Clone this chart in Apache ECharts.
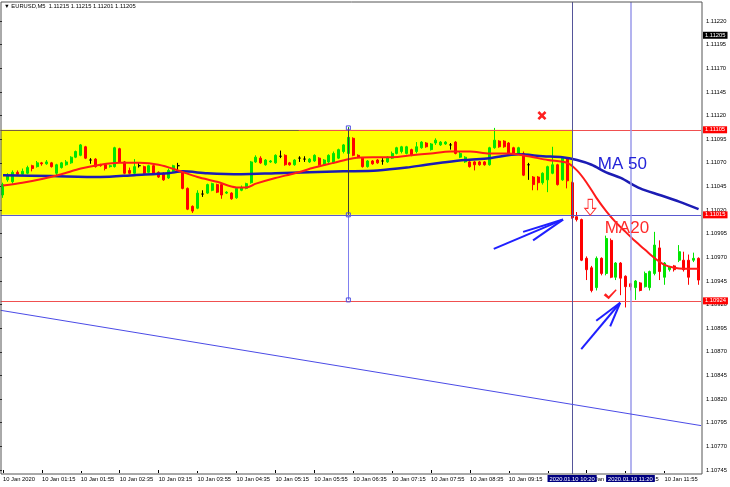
<!DOCTYPE html>
<html><head><meta charset="utf-8">
<script src="https://cdn.jsdelivr.net/npm/echarts@6/dist/echarts.min.js"></script>
<style>html,body{margin:0;padding:0;background:#fff}#c{width:730px;height:487px}</style>
</head><body><div id="c"></div>
<script>
// ---------- data ----------
const BASE = 1.10745;            // lowest price tick label
const TICK_STEP = 0.00025;       // price tick step
const VIEW_MIN = 1.107408;       // price at the bottom edge of the frame
const VIEW_MAX = 1.112402;       // price at the top edge of the frame
const FIRST_BAR_MIN = 35;        // first bar 00:35, M5 bars
const BAR_MINUTES = 5;

const openP = [1.11036,1.11052,1.11050,1.11060,1.11058,1.11059,1.11067,1.11066,1.11070,1.11069,
1.11070,1.11059,1.11065,1.11068,1.11070,1.11076,1.11078,1.11087,1.11073,1.11074,
1.11068,1.11068,1.11066,1.11066,1.11085,1.11071,1.11062,1.11059,1.11067,1.11066,
1.11060,1.11067,1.11060,1.11059,1.11054,1.11061,1.11067,1.11060,1.11043,1.11024,
1.11022,1.11037,1.11038,1.11041,1.11047,1.11047,1.11038,1.11038,1.11033,1.11041,
1.11043,1.11049,1.11071,1.11075,1.11068,1.11071,1.11070,1.11077,1.11078,1.11070,
1.11068,1.11075,1.11074,1.11071,1.11072,1.11075,1.11068,1.11071,1.11070,1.11075,
1.11082,1.11080,1.11096,1.11078,1.11075,1.11066,1.11072,1.11073,1.11072,1.11071,
1.11075,1.11080,1.11082,1.11080,1.11084,1.11082,1.11086,1.11091,1.11084,1.11091,
1.11089,1.11090,1.11089,1.11092,1.11076,1.11071,1.11071,1.11071,1.11071,1.11071,
1.11068,1.11086,1.11093,1.11093,1.11091,1.11086,1.11080,1.11080,1.11068,1.11055,
1.11055,1.11049,1.11052,1.11059,1.11068,1.11052,1.11075,1.11049,1.11013,1.11010,
1.10969,1.10959,1.10938,1.10969,1.10953,1.10988,1.10949,1.10964,1.10950,1.10942,
1.10938,1.10943,1.10939,1.10938,1.10953,1.10980,1.10949,1.10957,1.10961,1.10967,
1.10967,1.10967,1.10967,1.10969];
const closeP = [1.11047,1.11057,1.11060,1.11058,1.11061,1.11065,1.11064,1.11070,1.11069,1.11071,
1.11066,1.11068,1.11070,1.11071,1.11076,1.11082,1.11089,1.11075,1.11073,1.11066,
1.11067,1.11064,1.11067,1.11086,1.11071,1.11059,1.11059,1.11066,1.11067,1.11059,
1.11067,1.11059,1.11055,1.11052,1.11062,1.11067,1.11067,1.11043,1.11021,1.11019,
1.11038,1.11037,1.11047,1.11048,1.11039,1.11036,1.11039,1.11032,1.11043,1.11044,
1.11048,1.11071,1.11076,1.11070,1.11073,1.11072,1.11078,1.11077,1.11068,1.11068,
1.11073,1.11075,1.11074,1.11074,1.11078,1.11068,1.11073,1.11078,1.11080,1.11084,
1.11089,1.11097,1.11078,1.11076,1.11066,1.11072,1.11069,1.11070,1.11072,1.11076,
1.11080,1.11086,1.11087,1.11087,1.11078,1.11087,1.11092,1.11087,1.11090,1.11094,
1.11092,1.11092,1.11089,1.11080,1.11080,1.11076,1.11066,1.11068,1.11068,1.11068,
1.11086,1.11094,1.11087,1.11087,1.11080,1.11080,1.11086,1.11057,1.11068,1.11047,
1.11049,1.11059,1.11066,1.11068,1.11047,1.11075,1.11051,1.11012,1.11010,1.10967,
1.10957,1.10935,1.10969,1.10953,1.10990,1.10949,1.10964,1.10948,1.10939,1.10939,
1.10945,1.10935,1.10953,1.10955,1.10983,1.10955,1.10964,1.10960,1.10957,1.10976,
1.10957,1.10949,1.10969,1.10946];
const highP = [1.11049,1.11059,1.11062,1.11062,1.11064,1.11067,1.11068,1.11072,1.11071,1.11073,
1.11071,1.11069,1.11071,1.11073,1.11077,1.11083,1.11090,1.11088,1.11075,1.11075,
1.11069,1.11069,1.11068,1.11087,1.11086,1.11072,1.11065,1.11074,1.11070,1.11067,
1.11068,1.11068,1.11061,1.11060,1.11064,1.11068,1.11070,1.11062,1.11044,1.11025,
1.11041,1.11041,1.11048,1.11049,1.11048,1.11048,1.11040,1.11039,1.11044,1.11046,
1.11049,1.11072,1.11078,1.11077,1.11074,1.11073,1.11079,1.11083,1.11079,1.11071,
1.11074,1.11077,1.11077,1.11075,1.11079,1.11076,1.11074,1.11079,1.11082,1.11085,
1.11090,1.11108,1.11097,1.11079,1.11076,1.11073,1.11073,1.11074,1.11075,1.11077,
1.11082,1.11087,1.11088,1.11088,1.11085,1.11092,1.11093,1.11092,1.11091,1.11096,
1.11093,1.11093,1.11091,1.11093,1.11082,1.11077,1.11072,1.11072,1.11072,1.11072,
1.11087,1.11107,1.11094,1.11094,1.11092,1.11087,1.11087,1.11082,1.11070,1.11056,
1.11056,1.11060,1.11067,1.11087,1.11069,1.11076,1.11076,1.11050,1.11018,1.11011,
1.10971,1.10961,1.10971,1.10970,1.10993,1.10990,1.10965,1.10965,1.10951,1.10943,
1.10946,1.10944,1.10955,1.10956,1.10997,1.10988,1.10965,1.10961,1.10962,1.10983,
1.10976,1.10973,1.10975,1.10970];
const lowP = [1.11033,1.11050,1.11048,1.11056,1.11057,1.11058,1.11061,1.11065,1.11067,1.11068,
1.11065,1.11057,1.11064,1.11067,1.11069,1.11075,1.11077,1.11074,1.11069,1.11065,
1.11066,1.11062,1.11065,1.11065,1.11070,1.11058,1.11058,1.11058,1.11065,1.11058,
1.11059,1.11058,1.11054,1.11051,1.11053,1.11060,1.11062,1.11042,1.11020,1.11017,
1.11021,1.11034,1.11037,1.11040,1.11038,1.11032,1.11037,1.11031,1.11032,1.11040,
1.11042,1.11048,1.11070,1.11069,1.11067,1.11070,1.11069,1.11075,1.11067,1.11067,
1.11067,1.11071,1.11071,1.11070,1.11071,1.11067,1.11067,1.11070,1.11069,1.11074,
1.11080,1.11079,1.11077,1.11075,1.11065,1.11065,1.11068,1.11069,1.11068,1.11070,
1.11074,1.11079,1.11080,1.11079,1.11077,1.11080,1.11085,1.11086,1.11083,1.11089,
1.11088,1.11089,1.11084,1.11079,1.11075,1.11070,1.11065,1.11062,1.11067,1.11067,
1.11067,1.11085,1.11086,1.11086,1.11079,1.11079,1.11079,1.11056,1.11052,1.11041,
1.11041,1.11047,1.11039,1.11058,1.11046,1.11051,1.11043,1.11011,1.11008,1.10966,
1.10946,1.10933,1.10935,1.10951,1.10951,1.10948,1.10946,1.10930,1.10917,1.10935,
1.10925,1.10934,1.10938,1.10935,1.10951,1.10946,1.10941,1.10955,1.10955,1.10965,
1.10955,1.10941,1.10965,1.10941];

// moving averages: [bar index, price]
const ma20 = [[0,1.11046],[4,1.11049],[8,1.11053],[12,1.11058],[16,1.11064],[20,1.11068],[24,1.11070],
[28,1.11070],[32,1.11068],[36,1.11062],[40,1.11055],[44,1.11050],[48,1.11044],[50,1.11044],[52,1.11048],
[56,1.11054],[60,1.11059],[64,1.11065],[68,1.11070],[72,1.11075],[76,1.11076],[80,1.11076],[84,1.11078],
[88,1.11080],[92,1.11082],[96,1.11082],[100,1.11080],[104,1.11080],[108,1.11077],[112,1.11073],[116,1.11070],
[118,1.11062],[120,1.11049],[122,1.11033],[124,1.11019],[126,1.11007],[128,1.10997],[130,1.10987],
[132,1.10978],[134,1.10969],[136,1.10962],[138,1.10959],[140,1.10958],[143,1.10958]];
const ma50 = [[0,1.11057],[10,1.11056],[20,1.11055],[27,1.11057],[34,1.11059],[37,1.11061],[42,1.11059],
[49,1.11058],[56,1.11059],[63,1.11060],[70,1.11061],[77,1.11062],[83,1.11065],[87,1.11068],[90,1.11070],
[95,1.11073],[100,1.11075],[106,1.11079],[111,1.11077],[115,1.11076],[118,1.11073],[121,1.11068],
[124,1.11060],[127,1.11054],[131,1.11043],[135,1.11036],[139,1.11029],[143,1.11021]];
const trendLine = [[-0.5,1.10914],[143.5,1.10792]];

// chart objects
const levelTop = 1.11105, levelMid = 1.11015, levelLow = 1.10924, bidPrice = 1.11205;
const vLine1 = 117, vLine2 = 129;          // bars 10:20 and 11:20
const vLine1Text = '2020.01.10 10:20', vLine2Text = '2020.01.10 11:20';
const measureBar = 71, measureTop = 1.11107, measureBottom = 1.10925;
const titleText = '\u25BC EURUSD,M5  1.11215 1.11215 1.11201 1.11205';

// ---------- build ----------
const u = p => +((p - BASE) * 1e5).toFixed(2);
const N = openP.length;
const cats = [];
for (let i = 0; i < N; i++) {
  const m = FIRST_BAR_MIN + BAR_MINUTES * i;
  cats.push(String(Math.floor(m / 60)).padStart(2, '0') + ':' + String(m % 60).padStart(2, '0'));
}
const candles = openP.map((o, i) => {
  const v = [u(o), u(closeP[i]), u(lowP[i]), u(highP[i])];
  if (o === closeP[i]) return {value: v, itemStyle: {color: '#000', color0: '#000', borderColor: '#000', borderColor0: '#000'}};
  return v;
});
const pts = arr => arr.map(d => [d[0], u(d[1])]);
const FONT = 'Liberation Sans';
const FS = 5.8;
const priceLabel = (txt, bg) => ({show: true, position: 'end', distance: 2, formatter: txt, color: '#fff',
  backgroundColor: bg, padding: [1, 2, 0, 2], fontSize: FS, fontFamily: FONT});
const timeLabel = txt => ({show: true, position: 'start', distance: 1, formatter: txt, color: '#fff',
  backgroundColor: '#000080', padding: [1, 2, 0, 2], fontSize: FS, fontFamily: FONT});
const arrowStyle = {color: '#1f1fff', width: 2, type: 'solid'};
const seg = (a, b, ls) => [{coord: [a[0], u(a[1])], lineStyle: ls}, {coord: [b[0], u(b[1])]}];
const tip1 = [115.13, 1.11010], tip2 = [126.88, 1.10922];

const chart = echarts.init(document.getElementById('c'), null, {renderer: 'canvas'});
chart.setOption({
  animation: false,
  backgroundColor: '#fff',
  title: {text: titleText, left: 4, top: 3, padding: 0,
    textStyle: {fontSize: FS, fontWeight: 'normal', color: '#000', fontFamily: FONT}},
  grid: [
    {left: -1, right: 29, top: 2, bottom: 13},
    {left: 1, right: 28, top: 2, bottom: 13, show: true, borderColor: '#555', borderWidth: 1, backgroundColor: 'rgba(0,0,0,0)', z: 10},
    {left: -1, right: 29, top: 2, bottom: 17}
  ],
  xAxis: [
    {type: 'category', gridIndex: 0, data: cats, boundaryGap: true,
      axisLine: {show: false},
      axisTick: {show: true, interval: 7, alignWithLabel: true, length: 3, lineStyle: {color: '#000'}},
      axisLabel: {interval: 7, align: 'left', margin: 2, fontSize: FS, color: '#000', fontFamily: FONT,
        formatter: (v, i) => i === 0 ? '10 Jan 2020' : '10 Jan ' + v},
      splitLine: {show: false}},
    {type: 'value', gridIndex: 0, min: -0.5, max: N - 0.5, show: false},
    {type: 'value', gridIndex: 1, show: false},
    {type: 'value', gridIndex: 2, show: false}
  ],
  yAxis: [
    {type: 'value', gridIndex: 0, min: u(VIEW_MIN), max: u(VIEW_MAX), show: false},
    {type: 'value', gridIndex: 1, show: false},
    {type: 'value', gridIndex: 2, position: 'right', offset: 1, min: 0, max: u(VIEW_MAX),
      interval: TICK_STEP * 1e5, z: 1,
      axisLine: {show: false},
      axisTick: {show: true, length: 2, lineStyle: {color: '#000'}},
      axisLabel: {margin: 4, fontSize: FS, color: '#000', fontFamily: FONT, showMaxLabel: false,
        formatter: v => (BASE + v / 1e5).toFixed(5)},
      splitLine: {show: true, lineStyle: {color: '#fff', type: [2, 2], width: 1}}}
  ],
  series: [
    { // background rectangle
      type: 'line', xAxisIndex: 1, yAxisIndex: 0, data: [], z: 0, clip: false, silent: true,
      markArea: {silent: true, itemStyle: {color: '#ffff00'},
        data: [[{coord: [-0.5, u(levelTop)]}, {coord: [vLine1, u(levelMid)]}]]}
    },
    { // horizontal & vertical lines
      type: 'line', xAxisIndex: 1, yAxisIndex: 0, data: [], z: 2, clip: false, silent: true,
      markLine: {silent: true, symbol: ['none', 'none'], animation: false,
        data: [
          {yAxis: u(levelTop), lineStyle: {color: '#f05050', width: 1, type: 'solid'}, label: priceLabel('1.11105', '#ff0000')},
          {yAxis: u(levelMid), lineStyle: {color: '#5a5ad0', width: 1, type: 'solid'}, label: priceLabel('1.11015', '#ff0000')},
          {yAxis: u(levelLow), lineStyle: {color: '#f05050', width: 1, type: 'solid'}, label: priceLabel('1.10924', '#ff0000')},
          {yAxis: u(bidPrice), lineStyle: {color: 'rgba(0,0,0,0)', width: 1, type: 'solid'}, label: priceLabel('1.11205', '#000000')},
          [{coord: [-0.5, u(levelTop)], lineStyle: {color: '#7a6040', width: 1, type: 'solid'}, label: {show: false}}, {coord: [60.8, u(levelTop)]}],
          {xAxis: vLine1, lineStyle: {color: '#55559a', width: 1, type: 'solid'}, label: timeLabel(vLine1Text)},
          {xAxis: vLine2, lineStyle: {color: '#9a9aea', width: 1.5, type: 'solid'}, label: timeLabel(vLine2Text)},
          [{coord: [measureBar, u(measureTop)], lineStyle: {color: '#404030', width: 1, type: 'solid'}, label: {show: false}}, {coord: [measureBar, u(levelMid)]}],
          [{coord: [measureBar, u(levelMid)], lineStyle: {color: '#8080f0', width: 1, type: 'solid'}, label: {show: false}}, {coord: [measureBar, u(measureBottom)]}]
        ]},
      markPoint: {silent: true, label: {show: false}, symbol: 'rect', symbolSize: 4,
        itemStyle: {color: 'rgba(0,0,0,0)', borderColor: '#5050e0', borderWidth: 1},
        data: [{coord: [measureBar, u(measureTop)]}, {coord: [measureBar, u(levelMid)]}, {coord: [measureBar, u(measureBottom)]}]}
    },
    {
      type: 'candlestick', xAxisIndex: 0, yAxisIndex: 0, data: candles, z: 3, barWidth: 2.5,
      itemStyle: {color: '#00e600', color0: '#ff0000', borderColor: '#00e600', borderColor0: '#ff0000', borderWidth: 1}
    },
    {
      type: 'line', name: 'MA 50', xAxisIndex: 1, yAxisIndex: 0, data: pts(ma50), z: 4, smooth: 0.3,
      showSymbol: false, lineStyle: {color: '#1c1cb4', width: 2.5}
    },
    {
      type: 'line', name: 'MA20', xAxisIndex: 1, yAxisIndex: 0, data: pts(ma20), z: 4, smooth: 0.3,
      showSymbol: false, lineStyle: {color: '#ff1a1a', width: 2}
    },
    { // trend line + drawn objects
      type: 'line', xAxisIndex: 1, yAxisIndex: 0, data: pts(trendLine), z: 5, clip: false,
      showSymbol: false, lineStyle: {color: '#4b4be6', width: 1},
      markLine: {silent: true, symbol: ['none', 'none'], label: {show: false}, lineStyle: {type: 'solid'},
        data: [
          seg([100.9, 1.10979], tip1, arrowStyle),
          seg([106.93, 1.10997], tip1, arrowStyle),
          seg([108.98, 1.10988], tip1, arrowStyle),
          seg([118.88, 1.10873], tip2, arrowStyle),
          seg([121.96, 1.10903], tip2, arrowStyle),
          seg([124.83, 1.10897], tip2, arrowStyle)
        ]},
      markPoint: {silent: true, label: {show: false},
        data: [
          {coord: [110.8, u(1.11120)], symbol: 'path://M2,0L5,3L8,0L10,2L7,5L10,8L8,10L5,7L2,10L0,8L3,5L0,2Z',
            symbolSize: 9, itemStyle: {color: '#ff2020'}},
          {coord: [120.73, u(1.11023)], symbol: 'path://M3,0L7,0L7,8L10,8L5,14L0,8L3,8Z', symbolSize: [11, 16],
            itemStyle: {color: '#ffffff', borderColor: '#ff3030', borderWidth: 1}},
          {coord: [124.83, u(1.10931)], symbol: 'path://M0,6L2,4L5,7L12,0L13,1L5,10Z', symbolSize: [13, 10],
            itemStyle: {color: '#ff2020'}},
          {coord: [122.17, u(1.11068)], symbol: 'rect', symbolSize: 1, itemStyle: {color: 'rgba(0,0,0,0)'},
            label: {show: true, position: 'right', distance: 0, formatter: 'MA 50', color: '#2323d8', fontSize: 17, fontFamily: FONT}},
          {coord: [123.6, u(1.11001)], symbol: 'rect', symbolSize: 1, itemStyle: {color: 'rgba(0,0,0,0)'},
            label: {show: true, position: 'right', distance: 0, formatter: 'MA20', color: '#ff2a2a', fontSize: 17, fontFamily: FONT}}
        ]}
    }
  ]
});
</script></body></html>
